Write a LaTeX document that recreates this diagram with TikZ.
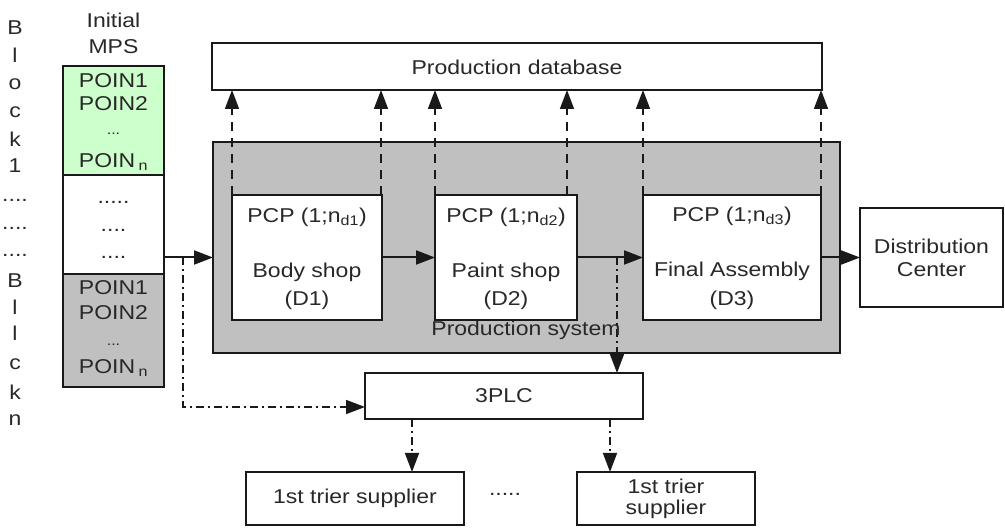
\documentclass[tikz,border=0pt]{standalone}
\usepackage{fontspec}
\setmainfont{Liberation Sans}[FakeStretch=1.15]
\usetikzlibrary{arrows.meta,calc}
\definecolor{grn}{RGB}{204,255,204}
\definecolor{gr}{RGB}{192,192,192}
\definecolor{txt}{RGB}{40,40,40}
\definecolor{lc}{RGB}{25,25,25}
\tikzset{
  box/.style={draw=lc, line width=1.3pt, fill=white, inner sep=0pt, outer sep=0pt, anchor=north west},
  lbl/.style={text=txt, inner sep=0pt, outer sep=0pt},
  tip/.style={-{Triangle[length=19pt,width=14pt]}},
  solidarr/.style={draw=lc, line width=2pt, tip},
  dasharr/.style={draw=lc, line width=1.6pt, dash pattern=on 9pt off 7pt, tip},
  dotarr/.style={draw=lc, line width=1.6pt, dash pattern=on 8pt off 4pt on 2pt off 4pt, tip},
}
\begin{document}
\begin{tikzpicture}[x=1pt,y=-1pt,font=\fontsize{20}{24}\selectfont]
\useasboundingbox (0,0) rectangle (1005,529);

% left vertical label
\foreach \t/\y [count=\i] in {B/28,l/55,o/84,c/112,k/139,1/166,B/281,l/307,l/333,c/364,k/392,n/420}
  {\node[lbl] (L\i) at (15,\y) {\t};}
\foreach \y [count=\i] in {202,230,257}
  {\node[lbl, anchor=base] (LD\i) at (15,\y) {....};}

% MPS column
\node[lbl] (ini) at (113.5,20) {Initial};
\node[lbl] (mpsl) at (113.5,47) {MPS};
\node[box, fill=grn, minimum width=101pt, minimum height=109pt] (mpsg) at (63,66) {};
\node[box, minimum width=101pt, minimum height=99pt] (mpsw) at (63,175) {};
\node[box, fill=gr, minimum width=101pt, minimum height=113pt] (mpsy) at (63,274) {};
\node[lbl] (g1) at (113.5,81) {POIN1};
\node[lbl] (g2) at (113.5,104) {POIN2};
\node[lbl, anchor=base] (g3) at (113.5,135) {\fontsize{14}{16}\selectfont ...};
\node[lbl] (g4) at (113.5,162) {POIN\,\textsubscript{n}};
\node[lbl, anchor=base] (w1) at (113.5,204) {.....};
\node[lbl, anchor=base] (w2) at (113.5,232) {....};
\node[lbl, anchor=base] (w3) at (113.5,259) {....};
\node[lbl] (y1) at (113.5,288) {POIN1};
\node[lbl] (y2) at (113.5,313) {POIN2};
\node[lbl, anchor=base] (y3) at (113.5,346) {\fontsize{14}{16}\selectfont ...};
\node[lbl] (y4) at (113.5,368) {POIN\,\textsubscript{n}};

% database
\node[box, minimum width=610pt, minimum height=47pt] (db) at (212,43) {};
\node[lbl] (dbt) at (517,67) {Production database};

% production system
\node[box, fill=gr, minimum width=627pt, minimum height=211pt] (ps) at (213,142) {};

% shops
\node[box, minimum width=150pt, minimum height=125pt] (d1) at (232,195) {};
\node[box, minimum width=142pt, minimum height=125pt] (d2) at (435,195) {};
\node[box, minimum width=178pt, minimum height=125pt] (d3) at (643,195) {};
\node[lbl] (d1a) at (d1.center |- 0,217) {PCP (1;n\textsubscript{d1})};
\node[lbl] (d1b) at (d1.center |- 0,272) {Body shop};
\node[lbl] (d1c) at (d1.center |- 0,300) {(D1)};
\node[lbl] (d2a) at (d2.center |- 0,217) {PCP (1;n\textsubscript{d2})};
\node[lbl] (d2b) at (d2.center |- 0,272) {Paint shop};
\node[lbl] (d2c) at (d2.center |- 0,300) {(D2)};
\node[lbl] (d3a) at (d3.center |- 0,216) {PCP (1;n\textsubscript{d3})};
\node[lbl] (d3b) at (d3.center |- 0,271) {Final Assembly};
\node[lbl] (d3c) at (d3.center |- 0,300) {(D3)};

% distribution center
\node[box, minimum width=143pt, minimum height=99pt] (dc) at (860,208) {};
\node[lbl, align=center] (dct) at (dc.center) {Distribution\\[-1pt]Center};

% 3PLC and suppliers
\node[box, minimum width=278pt, minimum height=46pt] (plc) at (365,373) {};
\node[lbl] (plct) at (plc.center) {3PLC};
\node[box, minimum width=218pt, minimum height=53pt] (s1) at (246,472) {};
\node[lbl] (s1t) at (s1.center) {1st trier supplier};
\node[box, minimum width=178pt, minimum height=53pt] (s2) at (577,472) {};
\node[lbl, align=center] (s2t) at (s2.center) {1st trier\\[-3pt]supplier};
\node[lbl, anchor=base] (sdots) at (505,496) {.....};

% dashed up arrows to database
\draw[dasharr] (d1.north west) -- (d1.north west |- db.south);
\draw[dasharr] ([xshift=-1pt]d1.north east) -- ([xshift=-1pt]d1.north east |- db.south);
\draw[dasharr] (d2.north west) -- (d2.north west |- db.south);
\draw[dasharr] ([xshift=-10pt]d2.north east) -- ([xshift=-10pt]d2.north east |- db.south);
\draw[dasharr] (d3.north west) -- (d3.north west |- db.south);
\draw[dasharr] (d3.north east) -- (d3.north east |- db.south);

% flow arrows
\coordinate (sp1) at ($(mpsw.east |- d1.west)+(19,0)$);
\coordinate (sp2) at (617,0 |- d2.east);
\draw[dotarr] (sp1) |- ([yshift=-11pt]plc.west);
\draw[dotarr] (sp2) -- (sp2 |- plc.north);
\draw[solidarr] (mpsw.east |- d1.west) -- (ps.west |- d1.west);
\draw[solidarr] (d1.east) -- (d2.west);
\draw[solidarr] (d2.east) -- (d3.west);
\draw[solidarr] (d3.east) -- (dc.west);
\draw[dotarr] (plc.south -| 412,0) -- (s1.north -| 412,0);
\draw[dotarr] (plc.south -| 610,0) -- (s2.north -| 610,0);

\node[lbl] (pst) at (526,330) {Production system};
\end{tikzpicture}
\end{document}
